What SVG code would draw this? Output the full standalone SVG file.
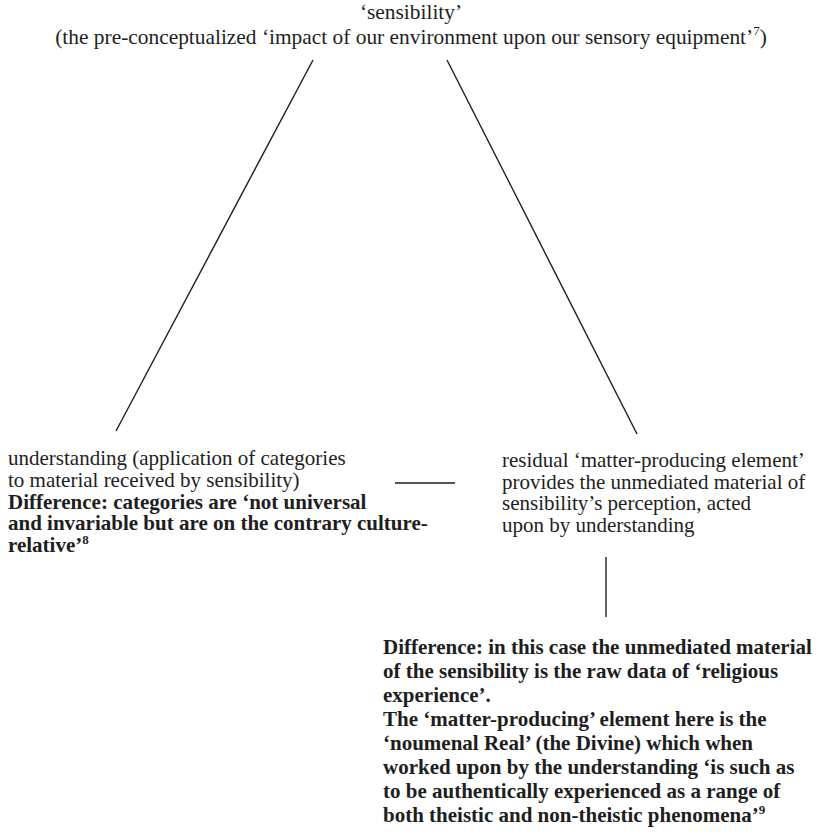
<svg xmlns="http://www.w3.org/2000/svg" width="824" height="832" viewBox="0 0 824 832">
<style>
text { font-family: "Liberation Serif", "Times New Roman", serif; font-size: 21px; fill: #1e1e1e; }
.t { font-size: 21.4px; }
.b { font-weight: bold; }
.c { text-anchor: middle; }
.sup { font-size: 13px; }
.ln { stroke: #1e1e1e; stroke-width: 1.4; fill: none; }
</style>
<rect width="824" height="832" fill="#ffffff"/>
<g id="connectors">
<line class="ln" x1="313" y1="60" x2="116" y2="431"/>
<line class="ln" x1="447" y1="60" x2="637" y2="434"/>
<line class="ln" x1="395" y1="483" x2="455" y2="483"/>
<line class="ln" x1="606" y1="557" x2="606" y2="617"/>
</g>
<g id="sensibility">
<text class="c t"><tspan x="411" y="19">‘sensibility’</tspan><tspan x="411" y="44">(the pre-conceptualized ‘impact of our environment upon our sensory equipment’</tspan><tspan class="sup" dy="-9">7</tspan><tspan dy="9">)</tspan></text>
</g>
<g id="understanding">
<text><tspan x="8" y="465">understanding (application of categories</tspan><tspan x="8" y="487">to material received by sensibility)</tspan><tspan class="b" x="8" y="508.5">Difference: categories are ‘not universal</tspan><tspan class="b" x="8" y="530">and invariable but are on the contrary culture-</tspan><tspan class="b" x="8" y="552">relative’</tspan><tspan class="b sup" dy="-8">8</tspan></text>
</g>
<g id="matter-producing">
<text><tspan x="502" y="467">residual ‘matter-producing element’</tspan><tspan x="502" y="488.5">provides the unmediated material of</tspan><tspan x="502" y="510">sensibility’s perception, acted</tspan><tspan x="502" y="532">upon by understanding</tspan></text>
</g>
<g id="difference-religious">
<text class="b"><tspan x="383" y="654">Difference: in this case the unmediated material</tspan><tspan x="383" y="678">of the sensibility is the raw data of ‘religious</tspan><tspan x="383" y="702">experience’.</tspan><tspan x="383" y="726">The ‘matter-producing’ element here is the</tspan><tspan x="383" y="750">‘noumenal Real’ (the Divine) which when</tspan><tspan x="383" y="774">worked upon by the understanding ‘is such as</tspan><tspan x="383" y="798">to be authentically experienced as a range of</tspan><tspan x="383" y="822">both theistic and non-theistic phenomena’</tspan><tspan class="sup" dy="-8">9</tspan></text>
</g>
</svg>
